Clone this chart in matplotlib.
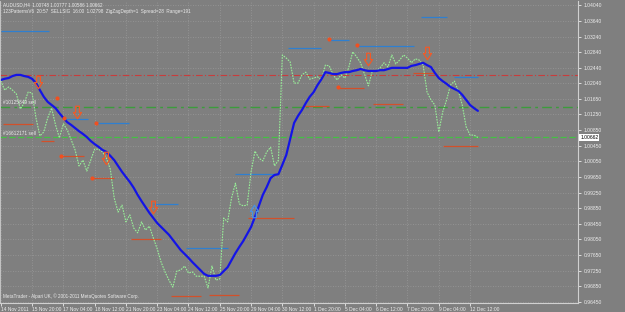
import matplotlib
matplotlib.use("Agg")
import matplotlib.pyplot as plt
from matplotlib.path import Path

plt.rcParams["font.family"] = ["Liberation Sans", "DejaVu Sans"]

# ---------------- data ----------------
close = [1.0211, 1.0187, 1.0195, 1.0187, 1.0177, 1.0139, 1.0154, 1.0182, 1.0180, 1.0116,
         1.0070, 1.0080, 1.0116, 1.0141, 1.0098, 1.0065, 1.0101, 1.0085, 1.0060, 1.0034,
         0.9993, 1.0008, 0.9980, 1.0008, 1.0036, 1.0036, 1.0029, 1.0013, 0.9985, 0.9911,
         0.9875, 0.9893, 0.9850, 0.9868, 0.9834, 0.9822, 0.9850, 0.9829, 0.9839, 0.9809,
         0.9781, 0.9747, 0.9722, 0.9701, 0.9683, 0.9724, 0.9727, 0.9737, 0.9719, 0.9722,
         0.9711, 0.9711, 0.9711, 0.9681, 0.9737, 0.9701, 0.9704, 0.9860, 0.9850, 0.9911,
         0.9949, 0.9896, 0.9891, 0.9893, 0.9978, 1.0031, 1.0013, 1.0006, 1.0029, 1.0041,
         0.9993, 1.0008, 1.0277, 1.0269, 1.0259, 1.0205, 1.0205, 1.0226, 1.0233, 1.0215,
         1.0218, 1.0221, 1.0213, 1.0251, 1.0249, 1.0226, 1.0213, 1.0226, 1.0218, 1.0246,
         1.0285, 1.0272, 1.0257, 1.0228, 1.0198, 1.0236, 1.0236, 1.0244, 1.0257, 1.0246,
         1.0277, 1.0254, 1.0264, 1.0277, 1.0269, 1.0257, 1.0267, 1.0264, 1.0251, 1.0182,
         1.0162, 1.0149, 1.0080, 1.0131, 1.0162, 1.0200, 1.0210, 1.0185, 1.0149, 1.0093,
         1.0072, 1.0072, 1.0066]

ma = [1.0213, 1.0216, 1.0218, 1.0223, 1.0226, 1.0226, 1.0223, 1.0221, 1.0216, 1.0205,
      1.0187, 1.0170, 1.0157, 1.0149, 1.0141, 1.0128, 1.0116, 1.0105, 1.0098, 1.0090,
      1.0082, 1.0075, 1.0067, 1.0057, 1.0049, 1.0042, 1.0034, 1.0029, 1.0019, 1.0008,
      0.9993, 0.9978, 0.9965, 0.9952, 0.9937, 0.9919, 0.9903, 0.9888, 0.9873, 0.9860,
      0.9847, 0.9837, 0.9827, 0.9817, 0.9804, 0.9791, 0.9778, 0.9768, 0.9758, 0.9747,
      0.9737, 0.9727, 0.9717, 0.9712, 0.9712, 0.9712, 0.9714, 0.9724, 0.9734, 0.9752,
      0.9770, 0.9786, 0.9801, 0.9819, 0.9837, 0.9863, 0.9891, 0.9919, 0.9939, 0.9962,
      0.9970, 0.9972, 0.9996, 1.0021, 1.0062, 1.0103, 1.0121, 1.0136, 1.0154, 1.0170,
      1.0182, 1.0200, 1.0215, 1.0233, 1.0231, 1.0228, 1.0228, 1.0231, 1.0233, 1.0233,
      1.0236, 1.0238, 1.0241, 1.0238, 1.0236, 1.0236, 1.0236, 1.0238, 1.0238, 1.0241,
      1.0244, 1.0244, 1.0244, 1.0244, 1.0244, 1.0249, 1.0251, 1.0254, 1.0257, 1.0251,
      1.0246, 1.0231, 1.0218, 1.0210, 1.0203, 1.0195, 1.0190, 1.0185, 1.0175, 1.0162,
      1.0149, 1.0141, 1.0134]

blue_seg_start = [0, 16.1, 24.3, 38.9, 47.3, 60.0, 73.4, 84.0, 91.0, 107.4, 115.9]
blue_seg_end = [12.3, 22.3, 32.7, 45.3, 58.0, 70.3, 81.8, 89.0, 105.6, 114.0, 122.0]
blue_seg_price = [1.0338, 1.0113, 1.0103, 0.9896, 0.9783, 0.9972, 1.0295, 1.0315, 1.0300, 1.0374, 1.0221]

red_seg_start = [0.5, 10.2, 15.3, 23.3, 33.2, 43.5, 53.2, 63.2, 77.2, 86.2, 95.1, 105.4, 113.0]
red_seg_end = [8.2, 13.6, 21.2, 28.9, 40.9, 51.2, 60.9, 75.0, 83.9, 92.8, 102.8, 110.7, 122.0]
red_seg_price = [1.0100, 1.0057, 1.0018, 0.9962, 0.9806, 0.9660, 0.9663, 0.9860, 1.0146, 1.0193, 1.0152, 1.0231, 1.0044]

dot_bar = [14.3, 16.1, 24.3, 15.3, 23.3, 84.0, 91.0, 86.2]
dot_price = [1.0167, 1.0116, 1.0103, 1.0018, 0.9962, 1.0318, 1.0303, 1.0195]

down_arrow_bar = [9.5, 19.4, 27.0, 39.0, 94.0, 109.0]
down_arrow_price = [1.0208, 1.0131, 1.0014, 0.9888, 1.0267, 1.0282]
up_arrow_bar = [64.7]
up_arrow_price = [0.9878]

red_level = 1.0226
green_level = 1.0144
bid_price = 1.00662
order_labels = ["#10125849 sell", "#16612171 sell"]
order_label_price = [1.0156, 1.0076]

ytick_labels = ["1.04040", "1.03640", "1.03240", "1.02840", "1.02440", "1.02040", "1.01650",
                "1.01250", "1.00850", "1.00450", "1.00050", "0.99650", "0.99250", "0.98850",
                "0.98450", "0.98050", "0.97650", "0.97250", "0.96850", "0.96450"]
xtick_bars = [0, 8, 16, 24, 32, 40, 48, 56, 64, 72, 80, 88, 96, 104, 112, 120]
xtick_labels = ["14 Nov 2011", "15 Nov 20:00", "17 Nov 04:00", "18 Nov 12:00", "21 Nov 20:00",
                "23 Nov 04:00", "24 Nov 12:00", "25 Nov 20:00", "29 Nov 04:00", "30 Nov 12:00",
                "1 Dec 20:00", "5 Dec 04:00", "6 Dec 12:00", "7 Dec 20:00", "9 Dec 04:00",
                "12 Dec 12:00"]

header1 = "AUDUSD,H4  1.00748 1.00777 1.00586 1.00662"
header2 = "123PatternsV6  20:57  SELLSIG  16:00  1.02798  ZigZagDepth=1  Spread=28  Range=191"
footer = "MetaTrader - Alpari UK, \u00a9 2001-2011 MetaQuotes Software Corp."

# ---------------- style ----------------
BG = "#7f7f7f"
TXT = "#ececec"
W, H = 625, 312

fig = plt.figure(figsize=(W / 100, H / 100), dpi=100, facecolor=BG)
ax = fig.add_axes([0.0, (H - 303) / H, 578 / W, 302 / H], facecolor=BG)

bars = list(range(len(close)))
ax.set_xlim(-0.2, 147.6)
ax.set_ylim(0.96425, 1.04150)

ax.set_yticks([float(t) for t in ytick_labels])
ax.set_yticklabels(ytick_labels)
ax.set_xticks(xtick_bars)
ax.set_xticklabels(xtick_labels)
ax.grid(True, color="#9a9a9a", linestyle=(0, (1, 2)), linewidth=0.6)
ax.set_axisbelow(True)

ax.yaxis.tick_right()
ax.tick_params(axis="y", colors=TXT, labelsize=3.6, length=2, width=0.6, pad=2, labelcolor=TXT)
ax.tick_params(axis="x", colors=TXT, labelsize=3.5, length=2, width=0.6, pad=0.8, labelcolor=TXT)
for lab in ax.get_xticklabels():
    lab.set_horizontalalignment("left")
for name, sp in ax.spines.items():
    sp.set_color("#d0d0d0")
    sp.set_linewidth(0.8)
ax.spines["top"].set_visible(False)
ax.spines["left"].set_linewidth(0.6)

# full-width levels
ax.axhline(red_level, color="#c83c3c", linestyle=(0, (6, 2, 1, 2)), linewidth=0.8)
ax.axhline(green_level, color="#3c9c3c", linestyle=(0, (7, 3, 2, 3)), linewidth=1.0)
ax.axhline(bid_price, color="#44c044", linestyle=(0, (5, 2)), linewidth=0.9)

# segments
ax.hlines(blue_seg_price, blue_seg_start, blue_seg_end, color="#2f7fd0", linewidth=0.9)
ax.hlines(red_seg_price, red_seg_start, red_seg_end, color="#d2502a", linewidth=0.9)

# price line and MA
ax.plot(bars, close, color="#98f098", linestyle=(0, (1.5, 1)), linewidth=0.8)
ax.plot(bars, ma, color="#1414e6", linewidth=1.6, solid_capstyle="round")

# dots
ax.plot(dot_bar, dot_price, linestyle="none", marker="o", markersize=3,
        color="#f05020", markeredgewidth=0)

# arrows
down_verts = [(-0.3, 1), (0.3, 1), (0.3, 0), (0.65, 0), (0, -1), (-0.65, 0), (-0.3, 0), (-0.3, 1)]
codes = [Path.MOVETO] + [Path.LINETO] * 6 + [Path.CLOSEPOLY]
down_path = Path(down_verts, codes)
up_path = Path([(x, -y) for x, y in down_verts], codes)
ax.plot(down_arrow_bar, down_arrow_price, linestyle="none", marker=down_path, markersize=9,
        markerfacecolor="none", markeredgecolor="#f05a28", markeredgewidth=0.9)
ax.plot(up_arrow_bar, up_arrow_price, linestyle="none", marker=up_path, markersize=9,
        markerfacecolor="none", markeredgecolor="#4a90e0", markeredgewidth=0.9)

# order labels
for lab, p in zip(order_labels, order_label_price):
    ax.text(0.5, p, lab, fontsize=3.4, color=TXT, va="center", ha="left")

# bid box
ax.text(1.004, bid_price, f"{bid_price:.5f}", transform=ax.get_yaxis_transform(),
        fontsize=3.6, color="black", va="center", ha="left",
        bbox=dict(boxstyle="square,pad=0.2", fc="white", ec="none"), clip_on=False)

# header / footer
fig.text(3 / W, 1 - 5 / H, header1, fontsize=3.3, color=TXT, va="center", ha="left")
fig.text(3 / W, 1 - 12 / H, header2, fontsize=3.3, color=TXT, va="center", ha="left")
fig.text(3 / W, 1 - 296 / H, footer, fontsize=3.3, color=TXT, va="center", ha="left")

fig.savefig("out.png", dpi=100, facecolor=BG)
